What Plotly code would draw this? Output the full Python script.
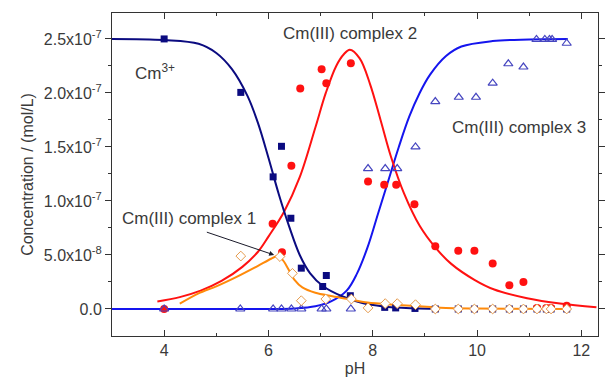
import plotly.graph_objects as go

SCALE = 1e-7

# ---- fitted curves (values in units of 1e-7 mol/L) ----
cm3_curve_ph = [3.0, 4.0, 4.66, 5.0, 5.3, 5.6, 5.8, 6.0, 6.2, 6.4, 6.6, 6.8, 7.05, 7.4, 7.8, 8.2, 8.8, 9.2]
cm3_curve_v = [2.50, 2.49, 2.455, 2.37, 2.22, 1.97, 1.72, 1.40, 1.06, 0.76, 0.50, 0.33, 0.21, 0.12, 0.055, 0.024, 0.006, 0.0]

c2_curve_ph = [3.87, 4.3, 4.7, 5.1, 5.5, 5.8, 6.0, 6.3, 6.6, 6.9, 7.1, 7.3, 7.45, 7.56, 7.75, 7.95, 8.15, 8.35, 8.6, 8.9, 9.2, 9.5, 9.95, 10.33, 10.96, 11.59, 12.29]
c2_curve_v = [0.07, 0.11, 0.17, 0.26, 0.39, 0.53, 0.67, 0.90, 1.22, 1.68, 2.0, 2.25, 2.36, 2.40, 2.32, 2.08, 1.75, 1.41, 1.07, 0.77, 0.57, 0.42, 0.27, 0.18, 0.10, 0.05, 0.015]

c3_curve_ph = [3.0, 6.0, 6.5, 6.9, 7.2, 7.5, 7.7, 7.9, 8.1, 8.3, 8.5, 8.7, 8.9, 9.1, 9.4, 9.7, 10.3, 11.0, 11.74]
c3_curve_v = [0.0, 0.0, 0.005, 0.025, 0.07, 0.17, 0.33, 0.57, 0.88, 1.19, 1.50, 1.78, 2.0, 2.17, 2.34, 2.43, 2.48, 2.495, 2.50]

c1_curve_ph = [4.30, 4.66, 5.0, 5.4, 5.8, 6.05, 6.17, 6.28, 6.38, 6.5, 6.65, 6.9, 7.2, 7.5, 7.9, 8.4, 8.9, 9.3, 10.0, 11.75]
c1_curve_v = [0.05, 0.145, 0.21, 0.30, 0.40, 0.465, 0.49, 0.45, 0.37, 0.27, 0.20, 0.15, 0.12, 0.095, 0.06, 0.04, 0.025, 0.012, 0.005, 0.0]

# ---- measured points ----
cm3_ph = [4.0, 5.47, 6.25, 6.09, 6.43, 6.63, 7.11, 7.04, 7.57, 8.23, 8.44, 8.81,
          9.20, 9.64, 9.95, 10.30, 10.62, 10.89, 11.15, 11.33, 11.42, 11.72]
cm3_v = [2.50, 2.005, 1.506, 1.223, 0.84, 0.378, 0.31, 0.208, 0.123, 0.015, 0.01, 0.005,
         0.0, 0.0, 0.0, 0.0, 0.0, 0.0, 0.0, 0.0, 0.0, 0.0]

c2_ph = [4.0, 6.08, 6.26, 6.44, 6.61, 7.02, 7.11, 7.58, 7.91, 8.22, 8.45, 8.80, 9.20,
         9.64, 9.95, 10.30, 10.62, 10.89, 11.15, 11.33, 11.42, 11.72]
c2_v = [0.0, 0.79, 0.526, 1.325, 2.04, 2.22, 2.09, 2.275, 1.18, 1.15, 1.15, 0.97, 0.58,
        0.54, 0.54, 0.42, 0.22, 0.25, 0.01, 0.01, 0.01, 0.03]

c3_ph = [4.0, 5.46, 6.09, 6.25, 6.44, 6.63, 7.02, 7.11, 7.58, 7.91, 8.24, 8.47, 8.82, 9.20,
         9.65, 9.98, 10.30, 10.60, 10.89, 11.14, 11.30, 11.39, 11.44, 11.72]
c3_v = [0.0, 0.0, 0.0, 0.0, 0.0, 0.0, 0.0, 0.0, 0.0, 1.30, 1.30, 1.30, 1.50, 1.92,
        1.96, 1.96, 2.09, 2.27, 2.24, 2.495, 2.495, 2.495, 2.495, 2.46]

c1_ph = [5.47, 6.22, 6.46, 6.63, 7.10, 7.59, 7.91, 8.24, 8.47, 8.82,
         9.20, 9.64, 9.95, 10.30, 10.62, 10.89, 11.15, 11.33, 11.42, 11.72]
c1_v = [0.49, 0.485, 0.33, 0.077, 0.092, 0.092, 0.01, 0.05, 0.05, 0.04,
        0.0, 0.0, 0.0, 0.0, 0.0, 0.0, 0.0, 0.0, 0.0, 0.0]

y_tickvals = [0.0, 0.5, 1.0, 1.5, 2.0, 2.5]
y_ticktext = ["0.0", "5.0x10<sup>-8</sup>", "1.0x10<sup>-7</sup>", "1.5x10<sup>-7</sup>",
              "2.0x10<sup>-7</sup>", "2.5x10<sup>-7</sup>"]
x_tickvals = [4, 6, 8, 10, 12]

NAVY = "#0b0b80"
RED = "#ff1111"
BLUE = "#1515ee"
TRI = "#4646c0"
ORANGE = "#ff8a0a"
DIAM = "#e59a4c"

def sc(v):
    return [a * SCALE for a in v]

fig = go.Figure()

# curves
fig.add_trace(go.Scatter(x=c3_curve_ph, y=sc(c3_curve_v), mode="lines", line=dict(color=BLUE, width=2, shape="spline", smoothing=1.0)))
fig.add_trace(go.Scatter(x=c2_curve_ph, y=sc(c2_curve_v), mode="lines", line=dict(color=RED, width=2, shape="spline", smoothing=1.0)))
fig.add_trace(go.Scatter(x=cm3_curve_ph, y=sc(cm3_curve_v), mode="lines", line=dict(color=NAVY, width=2, shape="spline", smoothing=1.0)))
fig.add_trace(go.Scatter(x=c1_curve_ph, y=sc(c1_curve_v), mode="lines", line=dict(color=ORANGE, width=2, shape="spline", smoothing=0.8)))

# markers
fig.add_trace(go.Scatter(x=cm3_ph, y=sc(cm3_v), mode="markers", marker=dict(symbol="square", size=7, color=NAVY)))
fig.add_trace(go.Scatter(x=c2_ph, y=sc(c2_v), mode="markers", marker=dict(symbol="circle", size=8, color=RED)))
fig.add_trace(go.Scatter(x=c3_ph, y=sc(c3_v), mode="markers", marker=dict(symbol="triangle-up-open", size=8, color=TRI, line=dict(width=1.2))))
fig.add_trace(go.Scatter(x=c1_ph, y=sc(c1_v), mode="markers", marker=dict(symbol="diamond", size=7.5, color="white", line=dict(color=DIAM, width=1))))

FONT = "Liberation Sans, Arial, sans-serif"
TXT = "#3a3a3a"

annos = [
    dict(x=3.83, y=2.19 * SCALE, text="Cm<sup>3+</sup>"),
    dict(x=7.56, y=2.55 * SCALE, text="Cm(III) complex 2"),
    dict(x=10.80, y=1.68 * SCALE, text="Cm(III) complex 3"),
    dict(x=4.47, y=0.84 * SCALE, text="Cm(III) complex 1"),
]
for a in annos:
    fig.add_annotation(x=a["x"], y=a["y"], text=a["text"], showarrow=False,
                       font=dict(family=FONT, size=17, color=TXT), xanchor="center", yanchor="middle")

fig.add_annotation(x=6.11, y=0.50 * SCALE, ax=4.79, ay=0.716 * SCALE, axref="x", ayref="y",
                   text="", showarrow=True, arrowhead=2, arrowsize=1, arrowwidth=1, arrowcolor="#1a1a2a")

fig.update_layout(
    width=610, height=385,
    margin=dict(l=112, r=5, t=13, b=49),
    plot_bgcolor="white", paper_bgcolor="white",
    showlegend=False,
    font=dict(family=FONT, size=16, color=TXT),
)
fig.update_xaxes(
    range=[3.0, 12.32], tickvals=x_tickvals, ticks="inside", ticklen=6, tickcolor="#333",
    minor=dict(dtick=1, tick0=3, ticks="inside", ticklen=3, tickcolor="#333"),
    showline=True, linecolor="#333", linewidth=1, mirror="ticks", showgrid=False, zeroline=False,
    title=dict(text="pH", font=dict(family=FONT, size=16, color=TXT), standoff=4),
    tickfont=dict(family=FONT, size=16, color=TXT),
)
fig.update_yaxes(
    range=[-0.25 * SCALE, 2.74 * SCALE], tickvals=[v * SCALE for v in y_tickvals], ticktext=y_ticktext,
    ticks="outside", ticklen=6, tickcolor="#333",
    minor=dict(tickvals=[v * SCALE for v in [0.25, 0.75, 1.25, 1.75, 2.25]], ticks="outside", ticklen=3, tickcolor="#333"),
    showline=True, linecolor="#333", linewidth=1, mirror="ticks", showgrid=False, zeroline=False,
    title=dict(text="Concentration / (mol/L)", font=dict(family=FONT, size=16, color=TXT), standoff=6),
    tickfont=dict(family=FONT, size=16, color=TXT),
)

fig.write_html("out.html")
